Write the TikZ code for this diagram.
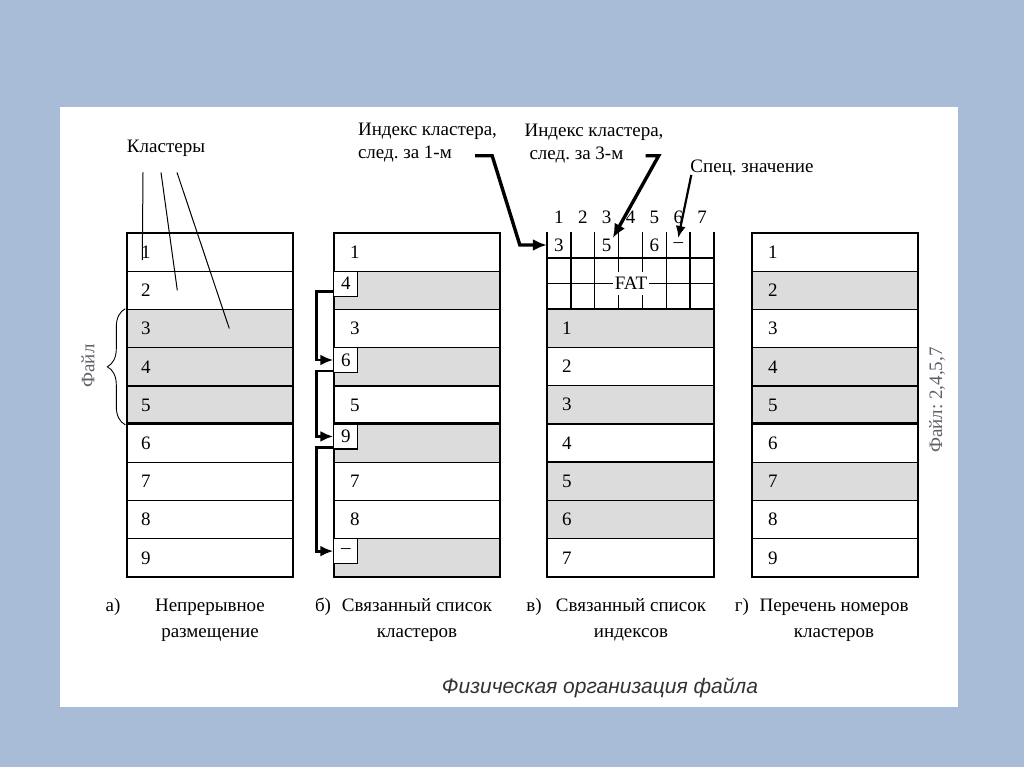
\documentclass[tikz,border=0pt]{standalone}
\usepackage{fontspec}
\setmainfont{Liberation Serif}
\newfontfamily\titlefont{Liberation Sans}
\usetikzlibrary{arrows.meta,decorations.pathreplacing}
\definecolor{bgblue}{RGB}{168,188,216}
\definecolor{cellgrey}{RGB}{220,220,220}
\definecolor{fadetext}{RGB}{95,95,105}
\frenchspacing

\begin{document}
\begin{tikzpicture}[x=1pt, y=-1pt, inner sep=0pt, font=\fontsize{19}{23}\selectfont]
		\tikzstyle{cell}=[draw, line width=1.4pt, fill=white, minimum width=166pt, minimum height=38.22pt, text width=138pt, inner xsep=14pt, align=left]
		\tikzstyle{ptrbox}=[draw, line width=1.1pt, fill=white, minimum width=24pt, minimum height=25pt, anchor=north west]
		\tikzstyle{fatcell}=[minimum width=23.86pt, minimum height=26pt]
		\tikzstyle{link}=[line width=2.8pt, -{Latex[length=13pt, width=11pt]}]
		\tikzstyle{bigarrow}=[line width=3.4pt, -{Latex[length=14pt, width=12pt]}]
		\tikzstyle{pointer}=[line width=1pt]

			% background and sheet
			\fill[bgblue] (0,0) rectangle (1024,767);
			\fill[white] (60,107) rectangle (958,707);
			\useasboundingbox (0,0) rectangle (1024,767);

			% a) continuous
			\foreach \i/\f in {1/white,2/white,3/cellgrey,4/cellgrey,5/cellgrey,6/white,7/white,8/white,9/white}
				\node[cell, fill=\f] (a\i) at (210, {233+38.22*(\i-0.5)}) {\i};
			\draw[line width=2.4pt] (a6.north west) -- (a6.north east);
			\node (clus) at (166,148) {Кластеры};
			\draw[pointer] ([shift={(-23pt,-16pt)}]clus.south) -- ([shift={(16pt,-8pt)}]a1.west);
			\draw[pointer] ([shift={(-5pt,-16pt)}]clus.south) -- ([xshift=51pt]a2.west);
			\draw[pointer] ([shift={(11pt,-16pt)}]clus.south) -- ([xshift=103pt]a3.west);
			\draw[decorate, decoration={brace, amplitude=18pt}, line width=0.9pt] ([xshift=-1pt]a5.south west) -- ([xshift=-1pt]a3.north west);
			\node[rotate=90, text=fadetext] (file) at (88,366) {Файл};

			% b) linked list of clusters
			\foreach \i/\t/\f in {1/1/white,2//cellgrey,3/3/white,4//cellgrey,5/5/white,6//cellgrey,7/7/white,8/8/white,9//cellgrey}
				\node[cell, fill=\f, text width=134pt, inner xsep=16pt] (b\i) at (417, {233+38.22*(\i-0.5)}) {\t};
			\draw[line width=2.4pt] (b6.north west) -- (b6.north east);
			\foreach \r/\t in {2/4,4/6,6/9,9/--}
				\node[ptrbox] (p\r) at (b\r.north west) {\t};
			\draw[link] ([yshift=-8pt]p2.west) -- ++(-17,0) |- (p4.west);
			\draw[link] ([yshift=-11pt]p4.west) -- ++(-17,0) |- (p6.west);
			\draw[link] ([yshift=-11pt]p6.west) -- ++(-17,0) |- (p9.west);

			% c) linked list of indices (FAT)
			\foreach \i/\f in {1/cellgrey,2/white,3/cellgrey,4/white,5/cellgrey,6/cellgrey,7/white}
				\node[cell, fill=\f, minimum height=38.29pt, minimum width=167pt, text width=137pt, inner xsep=15pt] (c\i) at (630.5, {309+38.29*(\i-0.5)}) {\i};
			\foreach \k in {0,...,7}
				\draw[line width=1.4pt] ({547+23.857*\k}, 232) -- ({547+23.857*\k}, 309);
			\draw[line width=1.4pt] (547,258) -- (714,258) (547,283.5) -- (714,283.5);
			\node[fill=white, inner xsep=2pt, inner ysep=5pt] (fat) at (631,283.5) {FAT};
			\foreach \k/\v in {1/3,2/,3/5,4/,5/6,6/--,7/}
				\node[fatcell] (f\k) at ({535.1+23.857*\k}, 245) {\v};
			\foreach \k in {1,...,7}
				\node (n\k) at ({535.1+23.857*\k}, 217) {\k};
			\node[align=left] (idx1) at (427.5,143) {Индекс кластера,\\след. за 1-м};
			\node[align=left] (idx3) at (594,144) {Индекс кластера,\\\hspace*{5pt}след. за 3-м};
			\node (spec) at (752,168) {Спец. значение};
			\draw[bigarrow] ([shift={(-22pt,7pt)}]idx1.south east) -- ++(17,0) -- ([xshift=-27pt]f1.west) -- (f1.west);
			\draw[bigarrow] ([shift={(-18pt,8pt)}]idx3.south east) -- ++(13,0) -- ([shift={(-6pt,7pt)}]f3.east);
			\draw[line width=2.2pt, -{Latex[length=12pt, width=10pt]}] ([shift={(1pt,-7pt)}]spec.west) -- ([yshift=7pt]f6.center);

			% d) list of cluster numbers
			\foreach \i/\f in {1/white,2/cellgrey,3/white,4/cellgrey,5/cellgrey,6/white,7/cellgrey,8/white,9/white}
				\node[cell, fill=\f, text width=134pt, inner xsep=16pt] (d\i) at (835, {233+38.22*(\i-0.5)}) {\i};
			\draw[line width=2.4pt] (d6.north west) -- (d6.north east);
			\node[rotate=90, text=fadetext] (list) at (937,400) {Файл: 2,4,5,7};

			% captions
			\tikzstyle{every node}=[align=center, font=\fontsize{19}{26}\selectfont]
			\node (capa) at (113,607) {а)};
			\node (capatext) at (210,620) {Непрерывное\\размещение};
			\node (capb) at (323,607) {б)};
			\node (capbtext) at (417,620) {Связанный список\\кластеров};
			\node (capc) at (534,607) {в)};
			\node (capctext) at (631,620) {Связанный список\\индексов};
			\node (capd) at (742,607) {г)};
			\node (capdtext) at (834,620) {Перечень номеров\\кластеров};
			\node[text=black!80] (title) at (600,688) {\titlefont\itshape\fontsize{21}{24}\selectfont Физическая организация файла};
		\end{tikzpicture}
\end{document}
